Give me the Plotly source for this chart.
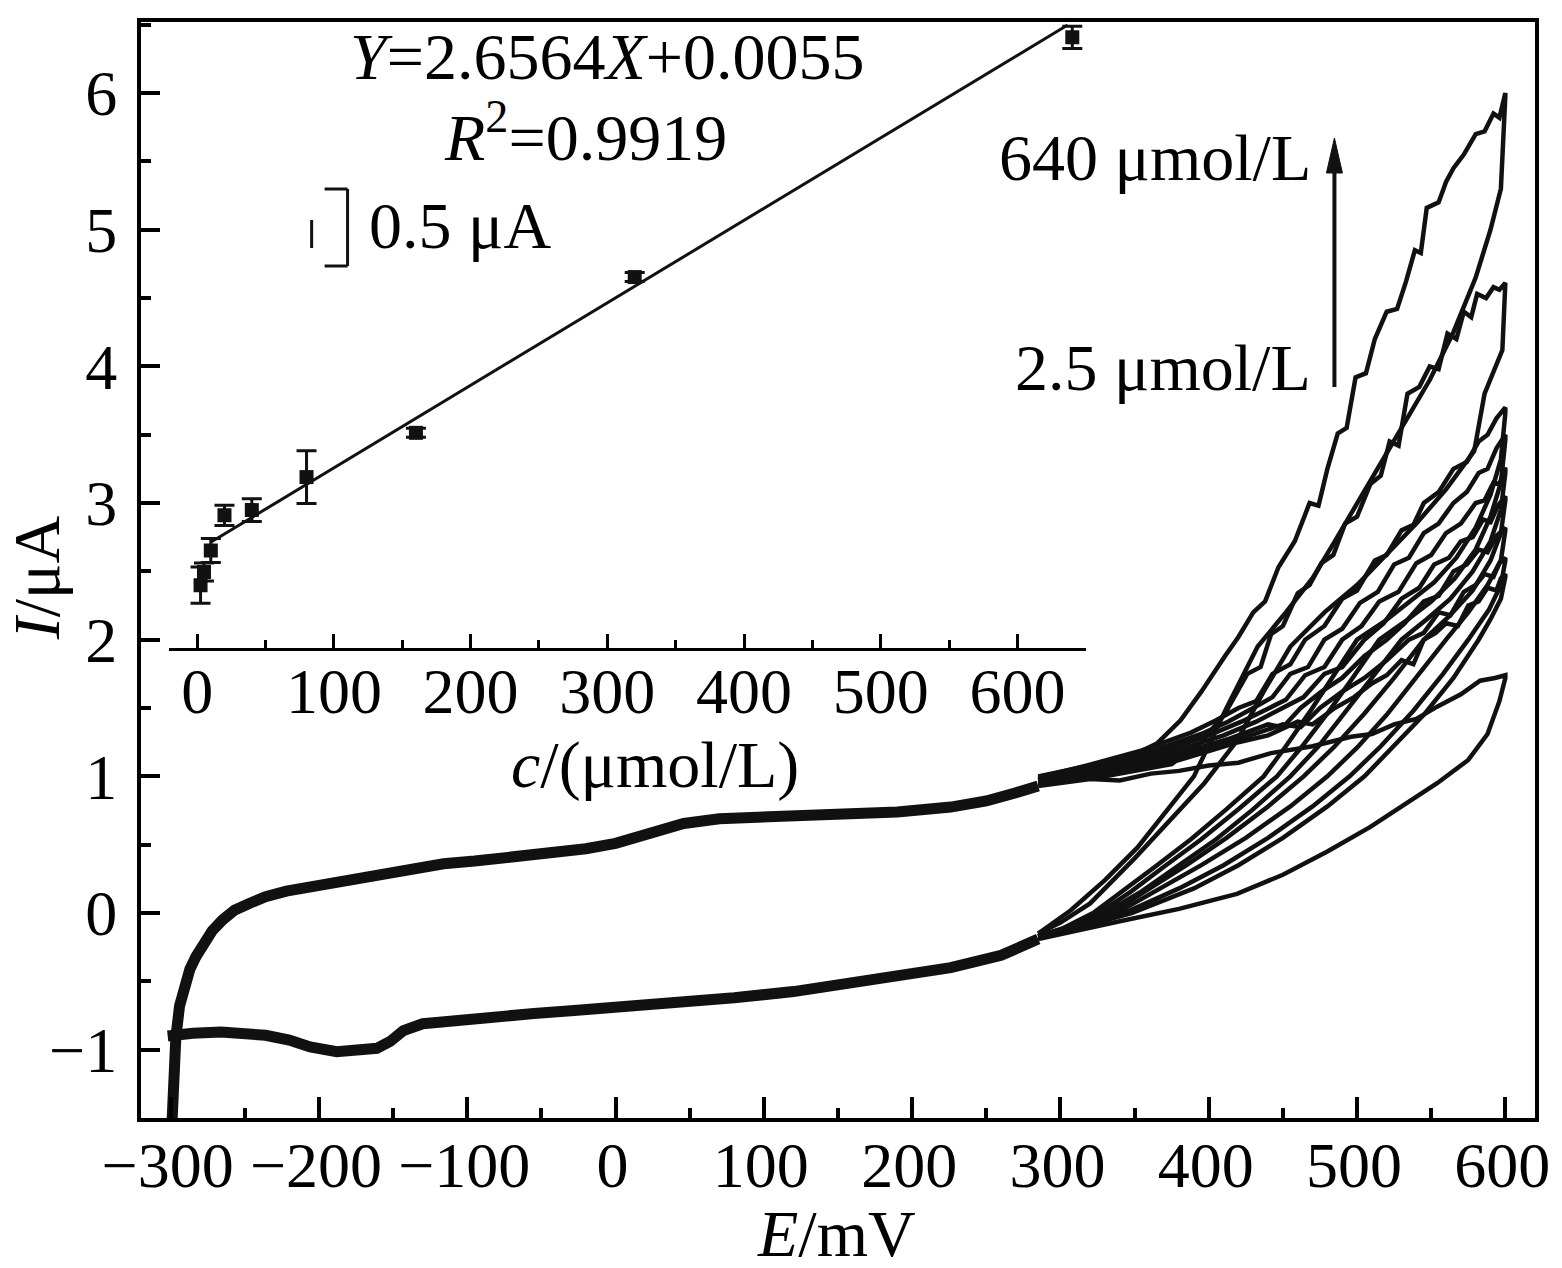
import plotly.graph_objects as go

# ---- main CV data (E in mV, I in uA) ----
# shared forward segment (start of scan up to ~285 mV)
start_e = [-300, -299, -298, -296.5, -294, -290.5, -287, -283, -278, -272, -265, -257, -247, -236,
           -222, -206, -190, -175, -161, -140, -116, -95, -66, -40, -20, 0, 20, 46, 70, 100, 130,
           159, 190, 226, 250, 270, 285]
start_i = [-1.75, -1.45, -1.2, -0.91, -0.68, -0.51, -0.41, -0.32, -0.22, -0.13, -0.05, 0.02, 0.07,
           0.12, 0.16, 0.19, 0.22, 0.26, 0.29, 0.32, 0.36, 0.38, 0.41, 0.44, 0.47, 0.51, 0.57, 0.655,
           0.69, 0.70, 0.71, 0.715, 0.74, 0.775, 0.82, 0.88, 0.93]

# shared reverse segment (from ~285 mV back to the start)
end_e = [285, 260, 226, 190, 159, 120, 80, 46, 5, -30, -55, -90, -116, -130, -143, -152, -161,
         -175, -188, -206, -220, -236, -250, -266, -285, -302]
end_i = [-0.19, -0.31, -0.40, -0.46, -0.515, -0.575, -0.62, -0.655, -0.69, -0.715, -0.735, -0.765,
         -0.785, -0.81, -0.86, -0.94, -0.99, -1.0, -1.015, -0.98, -0.93, -0.895, -0.88, -0.87,
         -0.88, -0.9]

# one loop per concentration (blank, 2.5 ... 640 umol/L)
loop_names = ["blank", "2.5", "5", "10", "20", "40", "80", "160", "320", "640"]

fwd_e = [
    [285, 320, 340, 361, 380, 400, 420, 442, 470, 496, 510, 525, 540, 554, 570, 583, 593, 600],
    [285, 330, 380, 420, 440, 460, 470, 485, 498, 510, 520, 530, 538, 545, 553, 560, 568, 575, 582,
     588, 594, 597, 600],
    [285, 330, 380, 420, 450, 462, 475, 490, 505, 520, 535, 545, 555, 563, 572, 580, 586, 592, 596,
     600],
    [285, 330, 375, 415, 440, 450, 462, 476, 490, 505, 520, 532, 545, 555, 565, 574, 582, 588, 594,
     600],
    [285, 325, 370, 410, 432, 450, 464, 478, 490, 505, 518, 530, 542, 552, 562, 570, 578, 585, 590,
     595, 600],
    [285, 325, 365, 400, 422, 440, 452, 465, 478, 490, 503, 515, 528, 540, 550, 560, 570, 580, 586,
     592, 596, 600],
    [285, 320, 360, 395, 413, 430, 443, 455, 467, 478, 490, 502, 514, 525, 535, 545, 555, 565, 574,
     582, 588, 594, 600],
    [285, 318, 355, 388, 405, 420, 432, 443, 455, 465, 478, 490, 500, 512, 520, 530, 538, 545, 555,
     565, 574, 582, 588, 594, 600],
    [285, 330, 375, 395, 411, 426, 435, 442, 450, 460, 468, 476, 484, 492, 500, 509, 516, 522, 528,
     534, 542, 549, 555, 561, 567, 572, 577, 581, 587, 592, 596, 600],
    [285, 320, 352, 365, 381, 395, 411, 420, 430, 438, 447, 458, 468, 474, 480, 487, 493, 499, 506,
     512, 520, 527, 533, 539, 543, 547, 555, 560, 565, 572, 580, 586, 592, 596, 600],
]
fwd_i = [
    [0.93, 0.98, 0.97, 1.02, 1.04, 1.08, 1.1, 1.17, 1.22, 1.29, 1.31, 1.38, 1.42, 1.51, 1.60, 1.70,
     1.72, 1.74],
    [0.94, 1.02, 1.12, 1.25, 1.30, 1.40, 1.38, 1.50, 1.58, 1.68, 1.74, 1.85, 1.82, 2.00, 2.05, 2.12,
     2.10, 2.25, 2.28, 2.38, 2.36, 2.45, 2.48],
    [0.95, 1.03, 1.14, 1.27, 1.38, 1.36, 1.50, 1.62, 1.72, 1.85, 2.0, 2.05, 2.2, 2.18, 2.35, 2.4,
     2.48, 2.46, 2.56, 2.60],
    [0.96, 1.04, 1.15, 1.28, 1.38, 1.36, 1.50, 1.62, 1.72, 1.88, 2.0, 2.12, 2.28, 2.32, 2.50, 2.55,
     2.66, 2.64, 2.76, 2.82],
    [0.97, 1.05, 1.16, 1.30, 1.40, 1.50, 1.58, 1.75, 1.80, 2.0, 2.12, 2.30, 2.38, 2.55, 2.6, 2.72,
     2.75, 2.88, 2.86, 2.98, 3.05],
    [0.97, 1.06, 1.17, 1.30, 1.40, 1.50, 1.56, 1.74, 1.80, 2.0, 2.1, 2.28, 2.35, 2.56, 2.62, 2.78,
     2.85, 3.0, 3.02, 3.15, 3.14, 3.26],
    [0.98, 1.07, 1.18, 1.31, 1.40, 1.50, 1.58, 1.75, 1.80, 2.0, 2.08, 2.27, 2.35, 2.55, 2.60, 2.78,
     2.85, 3.0, 3.08, 3.22, 3.25, 3.40, 3.50],
    [0.99, 1.08, 1.19, 1.32, 1.41, 1.50, 1.55, 1.75, 1.82, 2.0, 2.1, 2.30, 2.36, 2.58, 2.62, 2.80,
     2.84, 3.0, 3.08, 3.25, 3.30, 3.45, 3.50, 3.62, 3.70],
    [0.95, 1.0, 1.09, 1.25, 1.46, 1.75, 1.80, 2.04, 2.10, 2.34, 2.40, 2.56, 2.62, 2.85, 2.90, 3.14,
     3.20, 3.45, 3.42, 3.80, 3.85, 4.0, 3.98, 4.24, 4.20, 4.40, 4.36, 4.53, 4.50, 4.58, 4.56, 4.61],
    [1.0, 1.08, 1.17, 1.24, 1.41, 1.62, 1.88, 2.02, 2.2, 2.28, 2.53, 2.72, 3.0, 2.98, 3.25, 3.51,
     3.55, 3.92, 3.95, 4.2, 4.4, 4.42, 4.62, 4.85, 4.83, 5.16, 5.2, 5.35, 5.45, 5.55, 5.7, 5.72,
     5.85, 5.82, 6.0],
]
rev_e = [
    [600, 596, 588, 575, 554, 530, 509, 480, 450, 419, 380, 340, 310, 285],
    [600, 597, 590, 582, 565, 545, 525, 505, 480, 450, 420, 390, 348, 315, 285],
    [600, 597, 589, 575, 558, 538, 516, 495, 470, 440, 410, 380, 343, 312, 285],
    [600, 597, 588, 575, 560, 540, 520, 500, 480, 455, 425, 395, 365, 338, 308, 285],
    [600, 597, 590, 578, 562, 545, 525, 505, 485, 464, 440, 412, 385, 358, 334, 305, 285],
    [600, 597, 590, 578, 563, 547, 530, 510, 492, 474, 455, 430, 405, 380, 355, 330, 305, 285],
    [600, 597, 590, 580, 566, 550, 532, 515, 497, 480, 463, 446, 420, 395, 370, 348, 326, 303, 285],
    [600, 597, 590, 580, 567, 552, 535, 518, 500, 484, 468, 452, 437, 412, 388, 364, 342, 322,
     302, 285],
    [600, 598, 586, 579, 560, 540, 520, 500, 478, 455, 437, 419, 397, 374, 350, 320, 300, 285],
    [600, 597, 590, 580, 565, 549, 534, 516, 500, 485, 470, 452, 433, 412, 390, 370, 352, 330,
     307, 285],
]
rev_i = [
    [1.72, 1.55, 1.31, 1.12, 0.95, 0.78, 0.63, 0.45, 0.28, 0.14, 0.03, -0.06, -0.13, -0.19],
    [2.46, 2.30, 2.15, 2.0, 1.72, 1.45, 1.22, 1.0, 0.78, 0.55, 0.35, 0.18, 0.0, -0.1, -0.18],
    [2.58, 2.40, 2.22, 2.0, 1.75, 1.48, 1.22, 1.0, 0.78, 0.55, 0.35, 0.18, 0.0, -0.1, -0.18],
    [2.80, 2.58, 2.40, 2.20, 2.0, 1.72, 1.45, 1.21, 1.0, 0.78, 0.55, 0.35, 0.17, 0.0, -0.1, -0.17],
    [3.02, 2.78, 2.58, 2.36, 2.17, 2.0, 1.72, 1.46, 1.22, 1.0, 0.78, 0.55, 0.35, 0.16, 0.0, -0.11,
     -0.17],
    [3.22, 2.95, 2.72, 2.50, 2.30, 2.15, 2.0, 1.72, 1.47, 1.22, 1.0, 0.76, 0.54, 0.35, 0.16, 0.0,
     -0.11, -0.17],
    [3.46, 3.15, 2.90, 2.66, 2.45, 2.28, 2.13, 2.0, 1.72, 1.46, 1.22, 1.0, 0.76, 0.54, 0.34, 0.16,
     0.0, -0.11, -0.17],
    [3.66, 3.32, 3.06, 2.82, 2.60, 2.42, 2.27, 2.13, 2.0, 1.73, 1.47, 1.22, 1.0, 0.76, 0.54, 0.34,
     0.16, 0.0, -0.11, -0.17],
    [4.61, 4.12, 3.80, 3.38, 3.1, 2.85, 2.62, 2.4, 2.2, 1.95, 1.62, 1.26, 0.95, 0.68, 0.4, 0.07,
     -0.07, -0.15],
    [5.98, 5.3, 5.0, 4.65, 4.25, 3.9, 3.62, 3.3, 3.0, 2.72, 2.45, 2.2, 1.95, 1.5, 1.0, 0.72, 0.48,
     0.24, 0.02, -0.15],
]

# ---- inset: peak current vs concentration ----
conc = [2.5, 5, 10, 20, 40, 80, 160, 320, 640]
peak = [2.425, 2.512, 2.655, 2.89, 2.925, 3.145, 3.44, 4.478, 6.076]
peak_err = [0.12, 0.06, 0.08, 0.067, 0.076, 0.176, 0.03, 0.03, 0.074]
fit_c = [10.5, 636.6]
fit_i = [2.714, 6.158]

FONT = "Liberation Serif, Times New Roman, serif"
INK = "#111111"

# pixel -> paper helpers (plot area sits at 141..1538 x 22..1118 on the page)
def fx(px):
    return (px - 141) / 1397


def fy(py):
    return (1118 - py) / 1096


fig = go.Figure()

fig.add_trace(go.Scatter(x=start_e, y=start_i, mode="lines",
                         line=dict(color=INK, width=11), hoverinfo="skip"))
fig.add_trace(go.Scatter(x=end_e, y=end_i, mode="lines",
                         line=dict(color=INK, width=11), hoverinfo="skip"))

for k, name in enumerate(loop_names):
    fig.add_trace(go.Scatter(x=fwd_e[k] + rev_e[k], y=fwd_i[k] + rev_i[k], mode="lines",
                             name=name, line=dict(color=INK, width=4.5)))

# inset
fig.add_trace(go.Scatter(x=fit_c, y=fit_i, mode="lines", xaxis="x2", yaxis="y2",
                         line=dict(color=INK, width=3)))
fig.add_trace(go.Scatter(x=conc, y=peak, mode="markers", xaxis="x2", yaxis="y2",
                         marker=dict(symbol="square", size=14, color=INK),
                         error_y=dict(type="data", array=peak_err, color=INK,
                                      thickness=3, width=10)))

tickfont = dict(family=FONT, size=64, color="black")

fig.update_layout(
    width=1562, height=1268,
    margin=dict(l=141, r=24, t=22, b=150),
    paper_bgcolor="white", plot_bgcolor="white",
    showlegend=False,
    font=dict(family=FONT, color="black"),
    xaxis=dict(range=[-320, 620], dtick=100, tick0=0, ticks="inside", ticklen=21, tickwidth=4,
               tickcolor="black", showline=True, linewidth=4, linecolor="black", mirror=True,
               showgrid=False, zeroline=False, tickfont=tickfont, ticklabelstandoff=-12,
               ticklabelshift=-3,
               minor=dict(dtick=50, ticks="inside", ticklen=10, tickwidth=4, tickcolor="black")),
    yaxis=dict(range=[-1.5, 6.52], dtick=1, tick0=0, ticks="inside", ticklen=19, tickwidth=4,
               tickcolor="black", showline=True, linewidth=4, linecolor="black", mirror=True,
               showgrid=False, zeroline=False, tickfont=tickfont, ticklabelstandoff=7,
               minor=dict(dtick=0.5, ticks="inside", ticklen=10, tickwidth=4, tickcolor="black")),
    xaxis2=dict(domain=[fx(169.3), fx(1088)], anchor="y2", range=[-20.4, 650], dtick=100,
                tick0=0, ticks="inside", ticklen=14, tickwidth=3, tickcolor="black",
                showline=True, linewidth=3, linecolor="black", showgrid=False, zeroline=False,
                tickfont=tickfont, ticklabelstandoff=-15,
                minor=dict(dtick=50, ticks="inside", ticklen=8, tickwidth=3, tickcolor="black")),
    yaxis2=dict(domain=[fy(647.7), 1.0], anchor="x2", range=[2.008, 6.178], visible=False),
)

big = dict(family=FONT, size=66, color="black")
notes = [
    ("<i>Y</i>=2.6564<i>X</i>+0.0055", 609, 57, "center"),
    ("<i>R</i><sup>2</sup>=0.9919", 586, 133, "center"),
    ("0.5 μA", 367, 225, "left"),
    ("640 μmol/L", 1316, 157, "right"),
    ("2.5 μmol/L", 1316, 367, "right"),
    ("<i>c</i>/(μmol/L)", 656, 765, "center"),
    ("<i>E</i>/mV", 838, 1233, "center"),
]
for text, x, y, anchor in notes:
    fig.add_annotation(text=text, x=fx(x), y=fy(y), xref="paper", yref="paper",
                       xanchor=anchor, yanchor="middle", showarrow=False, font=big)
fig.add_annotation(text="<i>I</i>/μA", x=fx(36), y=fy(578), xref="paper", yref="paper",
                   xanchor="center", yanchor="middle", textangle=-90, showarrow=False, font=big)

# scale bar and concentration arrow
line = dict(color=INK, width=3)
fig.add_shape(type="line", xref="paper", yref="paper", x0=fx(348), x1=fx(348), y0=fy(189),
              y1=fy(266), line=line)
fig.add_shape(type="line", xref="paper", yref="paper", x0=fx(325), x1=fx(348), y0=fy(189),
              y1=fy(189), line=line)
fig.add_shape(type="line", xref="paper", yref="paper", x0=fx(325), x1=fx(348), y0=fy(266),
              y1=fy(266), line=line)
fig.add_shape(type="line", xref="paper", yref="paper", x0=fx(312), x1=fx(312), y0=fy(220),
              y1=fy(248), line=line)
fig.add_shape(type="line", xref="paper", yref="paper", x0=fx(1337), x1=fx(1337), y0=fy(387),
              y1=fy(165), line=dict(color=INK, width=4))
fig.add_shape(type="path", xref="paper", yref="paper",
              path=f"M {fx(1337)},{fy(138)} L {fx(1329)},{fy(173)} L {fx(1345)},{fy(173)} Z",
              fillcolor=INK, line=dict(color=INK, width=1))

# drop the default 8px page margin so the figure fills the window exactly
fig.write_html("out.html", config={"displayModeBar": False},
               post_script="document.body.style.margin = '0';")
